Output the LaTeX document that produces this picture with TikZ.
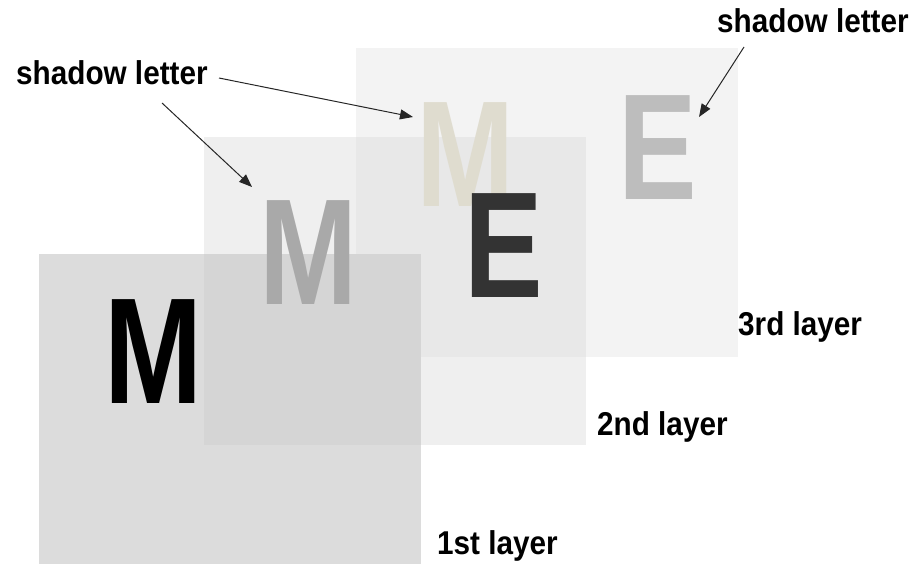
\documentclass[tikz,border=0pt]{standalone}
\usepackage{fontspec}
\usetikzlibrary{arrows.meta}
\newfontfamily\lblfont[FakeStretch=0.9]{Liberation Sans}
\newfontfamily\bigfont[FakeStretch=0.78]{Liberation Sans}
\definecolor{layA}{HTML}{DCDCDC}
\definecolor{layAB}{HTML}{D5D5D5}
\definecolor{layB}{HTML}{EFEFEF}
\definecolor{layBC}{HTML}{E8E8E8}
\definecolor{layC}{HTML}{F3F3F3}
\definecolor{shadowM}{HTML}{A9A9A9}
\definecolor{beigeM}{HTML}{DFDCCF}
\definecolor{shadowE}{HTML}{BDBDBD}
\definecolor{darkE}{HTML}{333333}
\tikzset{
  lbl/.style={inner sep=0pt, anchor=base west, font=\lblfont\bfseries\fontsize{33}{33}\selectfont},
  letter/.style={inner sep=0pt, anchor=base, font=\bigfont\bfseries\fontsize{151}{151}\selectfont},
  pointer/.style={draw=black!85, line width=1pt, -{Triangle[length=13pt,width=10pt]}}
}
\begin{document}
\begin{tikzpicture}[x=1pt,y=-1pt]
\useasboundingbox (0,0) rectangle (919,564);
% layers
\fill[layC] (356,48) rectangle (738,357);
\fill[layB] (204,137) rectangle (586,445);
\fill[layBC] (356,137) rectangle (586,357);
\fill[layA] (39,254) rectangle (421,564);
\fill[layAB] (204,254) rectangle (421,445);
% letters
\node[letter, text=beigeM] (mshadow3) at (466,207) {M};
\node[letter, text=shadowE] (eshadow) at (658,200) {E};
\node[letter, text=shadowM] (mshadow2) at (308.5,305) {M};
\node[letter, text=darkE] (eletter) at (503.5,298) {E};
\node[letter, text=black] (mletter) at (153.5,403) {M};
% labels
\node[lbl] (sl1) at (16,85) {shadow letter};
\node[lbl] (sl2) at (717,33) {shadow letter};
\node[lbl] (l3) at (738,335) {3rd layer};
\node[lbl] (l2) at (597,435) {2nd layer};
\node[lbl] (l1) at (437,554) {1st layer};
% arrows
\coordinate (a1s) at (162,103);
\coordinate (a1e) at (252,187);
\coordinate (a2s) at (219,78);
\coordinate (a2e) at (413,117);
\coordinate (a3s) at (744,47);
\coordinate (a3e) at (699,117);
\draw[pointer] (a1s) -- (a1e);
\draw[pointer] (a2s) -- (a2e);
\draw[pointer] (a3s) -- (a3e);
\end{tikzpicture}
\end{document}
